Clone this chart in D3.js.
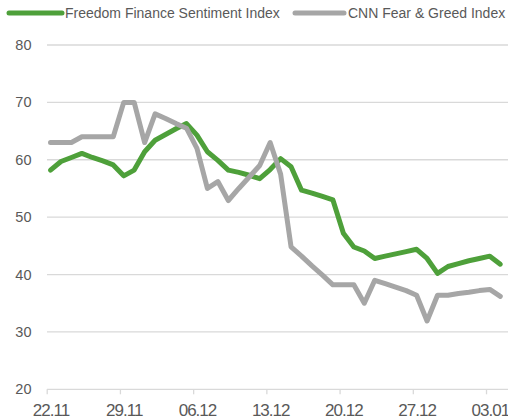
<!DOCTYPE html>
<html>
<head>
<meta charset="utf-8">
<script src="https://cdn.jsdelivr.net/npm/d3@7"></script>
<style>
  body { margin: 0; background: #fff; }
  text { font-family: "Liberation Sans", Arial, sans-serif; fill: #595959; }
</style>
</head>
<body>
<svg width="508" height="419"></svg>
<script>
const svg = d3.select('svg')

const width = +svg.attr('width')
const height = +svg.attr('height')

// daily values, 22.11.2021 - 04.01.2022
const dates = [
  '2021-11-22', '2021-11-23', '2021-11-24', '2021-11-25', '2021-11-26', '2021-11-27', '2021-11-28',
  '2021-11-29', '2021-11-30', '2021-12-01', '2021-12-02', '2021-12-03', '2021-12-04', '2021-12-05',
  '2021-12-06', '2021-12-07', '2021-12-08', '2021-12-09', '2021-12-10', '2021-12-11', '2021-12-12',
  '2021-12-13', '2021-12-14', '2021-12-15', '2021-12-16', '2021-12-17', '2021-12-18', '2021-12-19',
  '2021-12-20', '2021-12-21', '2021-12-22', '2021-12-23', '2021-12-24', '2021-12-25', '2021-12-26',
  '2021-12-27', '2021-12-28', '2021-12-29', '2021-12-30', '2021-12-31', '2022-01-01', '2022-01-02',
  '2022-01-03', '2022-01-04'
]
const freedom = [
  58.2, 59.7, 60.4, 61.1, 60.4, 59.8, 59.1,
  57.2, 58.2, 61.4, 63.4, 64.4, 65.4, 66.3,
  64.3, 61.4, 59.9, 58.2, 57.8, 57.3, 56.7,
  58.3, 60.2, 58.8, 54.7, 54.2, 53.6, 53.0,
  47.2, 44.8, 44.1, 42.8, 43.2, 43.6, 44.0,
  44.4, 42.8, 40.2, 41.4, 41.9, 42.4, 42.8,
  43.2, 41.8
]
const cnn = [
  63, 63, 63, 64, 64, 64, 64,
  70, 70, 63, 68, 67.2, 66.3, 65.5,
  62, 55, 56.2, 52.9, 55, 57, 59,
  63, 57.5, 44.8, 43.2, 41.5, 39.9, 38.2,
  38.2, 38.2, 35, 39, 38.4, 37.8, 37.2,
  36.4, 31.9, 36.4, 36.4, 36.7, 36.9, 37.2,
  37.4, 36.2
]
const tickDates = ['2021-11-22', '2021-11-29', '2021-12-06', '2021-12-13', '2021-12-20', '2021-12-27', '2022-01-03']
const yTicks = [20, 30, 40, 50, 60, 70, 80]

const series = [
  {name: 'Freedom Finance Sentiment Index', values: freedom, color: '#4ea03a'},
  {name: 'CNN Fear & Greed Index', values: cnn, color: '#a6a6a6'}
]

const parse = d3.timeParse('%Y-%m-%d')
const fmt = d3.timeFormat('%d.%m')

const xScale = d3.scaleTime()
  .domain([parse('2021-11-22'), parse('2022-01-05')])
  .range([50.5, 50.5 + 44 * 10.46])

const yScale = d3.scaleLinear()
  .domain([20, 80])
  .range([389.3, 45])

const plotLeft = 47

// gridlines
svg.append('g').selectAll('line')
  .data(yTicks)
  .enter()
  .append('line')
  .attr('x1', plotLeft)
  .attr('x2', width)
  .attr('y1', d => yScale(d))
  .attr('y2', d => yScale(d))
  .attr('stroke', '#d9d9d9')
  .attr('stroke-width', 1.3)

// y labels
svg.append('g').selectAll('text')
  .data(yTicks)
  .enter()
  .append('text')
  .attr('x', 31.5)
  .attr('y', d => yScale(d))
  .attr('dy', '0.35em')
  .attr('text-anchor', 'end')
  .style('font-size', '14.5px')
  .text(d => d)

// x axis
const xAxis = svg.append('g')
  .attr('transform', `translate(0, ${yScale(20)})`)
  .call(d3.axisBottom(xScale)
    .tickValues(tickDates.map(parse))
    .tickFormat(fmt)
    .tickSize(5)
    .tickSizeOuter(0))

xAxis.select('.domain').remove()
xAxis.selectAll('.tick line')
  .attr('stroke', '#d9d9d9')
  .attr('stroke-width', 1.3)
  .attr('transform', 'translate(-3.8, 0)')
xAxis.selectAll('.tick text')
  .attr('y', 15)
  .attr('dy', '0.71em')
  .style('font-family', '"Liberation Sans Narrow", "Liberation Sans", sans-serif')
  .style('font-size', '17px')
  .style('letter-spacing', '-1px')
  .style('fill', '#595959')

// lines
const line = d3.line()
  .x((d, i) => xScale(parse(dates[i])))
  .y(d => yScale(d))

svg.append('g').selectAll('path')
  .data(series)
  .enter()
  .append('path')
  .attr('d', d => line(d.values))
  .attr('fill', 'none')
  .attr('stroke', d => d.color)
  .attr('stroke-width', 5)
  .attr('stroke-linejoin', 'round')
  .attr('stroke-linecap', 'round')

// legend
const legendX = [9, 295]
const legend = svg.append('g').selectAll('g')
  .data(series)
  .enter()
  .append('g')
  .attr('transform', (d, i) => `translate(${legendX[i]}, 13)`)

legend.append('line')
  .attr('x1', 0)
  .attr('x2', (d, i) => i === 0 ? 53 : 49)
  .attr('stroke', d => d.color)
  .attr('stroke-width', 5)
  .attr('stroke-linecap', 'round')

legend.append('text')
  .attr('x', (d, i) => i === 0 ? 56 : 53)
  .attr('dy', '0.35em')
  .style('font-size', '14px')
  .text(d => d.name)
</script>
</body>
</html>
